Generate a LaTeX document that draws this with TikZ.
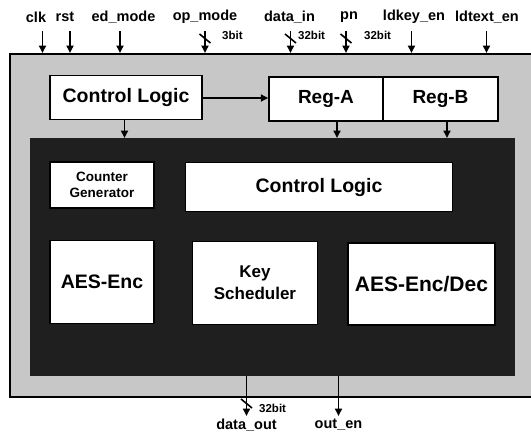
\documentclass[tikz,border=0pt]{standalone}
\usepackage{fontspec}
\setmainfont{Liberation Sans}
\usetikzlibrary{arrows.meta}
\begin{document}
\begin{tikzpicture}[x=1pt,y=-1pt,
  blk/.style={draw=black,line width=1.5pt,fill=white,inner sep=0pt,font=\bfseries\fontsize{19.5}{21}\selectfont,align=center},
  sig/.style={font=\bfseries\fontsize{14.5}{16}\selectfont,inner sep=0pt},
  bits/.style={font=\bfseries\fontsize{11.5}{13}\selectfont,inner sep=0pt,anchor=west},
  arr/.style={line width=1.8pt,-{Triangle[length=7.5pt,width=7pt]}},
  slash/.style={line width=1.6pt}]
\useasboundingbox (0,0) rectangle (531,434);
\clip (0,0) rectangle (531,434);
\fill[white] (0,0) rectangle (531,434);
% outer and inner regions
\node[draw=black,line width=1.6pt,fill=black!22,minimum width=540pt,minimum height=343pt,inner sep=0pt,anchor=north west] (outer) at (9,53) {};
\node[fill=black!88,minimum width=485pt,minimum height=238pt,inner sep=0pt,anchor=north west] (core) at (30,138) {};
% top blocks
\node[blk,minimum width=152pt,minimum height=44pt] (cl1) at (126,97.5) {Control Logic};
\node[blk,minimum width=114pt,minimum height=44pt,font=\bfseries\fontsize{19}{21}\selectfont] (rega) at (326,99) {Reg-A};
\node[blk,minimum width=115pt,minimum height=44pt,font=\bfseries\fontsize{19}{21}\selectfont] (regb) at (440.5,99) {Reg-B};
% inner blocks
\node[blk,minimum width=104pt,minimum height=46pt,font=\bfseries\fontsize{13.5}{15.5}\selectfont] (cg) at (102,185) {Counter\\Generator};
\node[blk,minimum width=267pt,minimum height=49pt] (cl2) at (319,187) {Control Logic};
\node[blk,minimum width=104pt,minimum height=83pt,font=\bfseries\fontsize{19.5}{21}\selectfont] (enc) at (102,282) {AES-Enc};
\node[blk,minimum width=125pt,minimum height=83pt,font=\bfseries\fontsize{17}{22}\selectfont] (ks) at (255,283) {Key\\Scheduler};
\node[blk,minimum width=147pt,minimum height=82pt,font=\bfseries\fontsize{21}{23}\selectfont] (ed) at (421.5,284) {AES-Enc/Dec};
% internal arrows
\draw[arr] (cl1.east |- 0,98) -- (rega.west |- 0,98);
\draw[arr] (cl1.south -| 124.5,0) -- (core.north -| 124.5,0);
\draw[arr] (rega.south -| 337,0) -- (core.north -| 337,0);
\draw[arr] (regb.south -| 447,0) -- (core.north -| 447,0);
% input signals
\node[sig] (clk) at (36,17) {clk};
\node[sig] (rst) at (65,17) {rst};
\node[sig] (edm) at (123.5,17) {ed\_mode};
\node[sig] (opm) at (205,17) {op\_mode};
\node[sig] (din) at (289.5,17) {data\_in};
\node[sig] (pn) at (349,17) {pn};
\node[sig] (ldk) at (414,17) {ldkey\_en};
\node[sig] (ldt) at (487,17) {ldtext\_en};
\coordinate (tclk) at (42.5,31);
\coordinate (trst) at (70,31);
\coordinate (tedm) at (120,31);
\coordinate (topm) at (205,31);
\coordinate (tdin) at (290.5,31);
\coordinate (tpn) at (346,31);
\coordinate (tldk) at (411.5,31);
\coordinate (tldt) at (486.5,31);
\foreach \c in {tclk,trst,tedm,topm,tdin,tpn,tldk,tldt}
  \draw[arr] (\c) -- (\c |- outer.north);
\foreach \c in {topm,tdin,tpn}
  \draw[slash] ([shift={(-5.5,3)}]\c) -- ([shift={(5.5,12)}]\c);
\node[bits] (b1) at (222,35) {3bit};
\node[bits] (b2) at (298,35) {32bit};
\node[bits] (b3) at (364,35) {32bit};
% outputs
\node[sig] (dout) at (246.5,425) {data\_out};
\node[sig] (oen) at (338.5,425) {out\_en};
\coordinate (odout) at (246.5,416);
\coordinate (ooen) at (338.5,416);
\draw[arr] (core.south -| odout) -- (odout);
\draw[arr] (core.south -| ooen) -- (ooen);
\draw[slash] ([shift={(-5.5,-17)}]odout) -- ([shift={(5.5,-8)}]odout);
\node[bits] (b4) at (259,408) {32bit};
\end{tikzpicture}
\end{document}
